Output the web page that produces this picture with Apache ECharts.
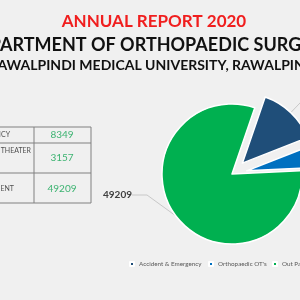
<!DOCTYPE html>
<html><head><meta charset="utf-8">
<script src="https://cdn.jsdelivr.net/npm/echarts@6/dist/echarts.min.js"></script>
<style>html,body{margin:0;padding:0;background:#f0f0f0}#c{width:300px;height:300px}</style>
</head><body><div id="c"></div>
<script>
const categories = ["Accident & Emergency", "Orthopaedic OT's", "Out Patient"];
const values = [8349, 3157, 49209];
const tableLabels = ["ACCIDENT & EMERGENCY", "ORTHOPAEDIC OPERATION THEATER", "OUT PATIENT DEPARTMENT"];
const colors = ['#1f4e79', '#0070c0', '#00b050'];
const titleLines = ["ANNUAL REPORT 2020", "DEPARTMENT OF ORTHOPAEDIC SURGERY", "RAWALPINDI MEDICAL UNIVERSITY, RAWALPINDI"];

const chart = echarts.init(document.getElementById('c'));
const F = 'Lato, "Open Sans", sans-serif';

const rowsY = [127, 143, 173, 203];
const graphics = [];
// titles
graphics.push({type:'text', x:154, y:22, style:{text:titleLines[0], fill:'#f01e1e', font:'bold 17px '+F, textAlign:'center', textVerticalAlign:'middle'}});
graphics.push({type:'text', x:150, y:45, style:{text:titleLines[1], fill:'#111', font:'bold 18px '+F, textAlign:'center', textVerticalAlign:'middle'}});
graphics.push({type:'text', x:154, y:65, style:{text:titleLines[2], fill:'#111', font:'bold 14px '+F, textAlign:'center', textVerticalAlign:'middle'}});
// table lines
rowsY.forEach(y => graphics.push({type:'line', shape:{x1:0, y1:y, x2:91, y2:y}, style:{stroke:'#808080', lineWidth:1}}));
[34, 91].forEach(x => graphics.push({type:'line', shape:{x1:x, y1:rowsY[0], x2:x, y2:rowsY[3]}, style:{stroke:'#808080', lineWidth:1}}));
const labelEnds = [10, 31, 14];
const labelYs = [135, 151, 189];
tableLabels.forEach((t, i) => graphics.push({type:'text', x:labelEnds[i], y:labelYs[i], style:{text:t, fill:'#505050', font:'7px '+F, textAlign:'right', textVerticalAlign:'middle'}}));
const valueYs = [135, 158, 189];
values.forEach((v, i) => graphics.push({type:'text', x:62, y:valueYs[i], style:{text:String(v), fill:'#3cb371', font:'10px '+F, textAlign:'center', textVerticalAlign:'middle'}}));

const legendLefts = [129, 208, 272];
chart.setOption({
  backgroundColor:'#f0f0f0',
  color: colors,
  animation:false,
  graphic: graphics,
  legend: categories.map((c, i) => ({
    data: [c], left: legendLefts[i], top: 261, padding: 0, icon:'rect', itemWidth:4, itemHeight:4,
    textStyle:{fontSize:6.3, color:'#595959', fontFamily:F}
  })),
  series: [{
    type:'pie', center:[232,174], radius:70, startAngle:71, clockwise:true,
    selectedMode:'multiple', selectedOffset:15,
    itemStyle:{borderColor:'#ffffff', borderWidth:1.5},
    label:{show:true, formatter:'{c}', fontSize:10, fontWeight:'bold', color:'#404040', fontFamily:F},
    labelLine:{show:true, length:15, length2:15, lineStyle:{color:'#c8c8c8', width:1}},
    labelLayout: function(p){ if(p.dataIndex===2){ return {x:103, y:195, align:'left', verticalAlign:'middle'}; } return {}; },
    emphasis:{disabled:true},
    data: categories.map((c,i)=>({name:c, value:values[i], selected: i<2}))
  }]
});
</script></body></html>
